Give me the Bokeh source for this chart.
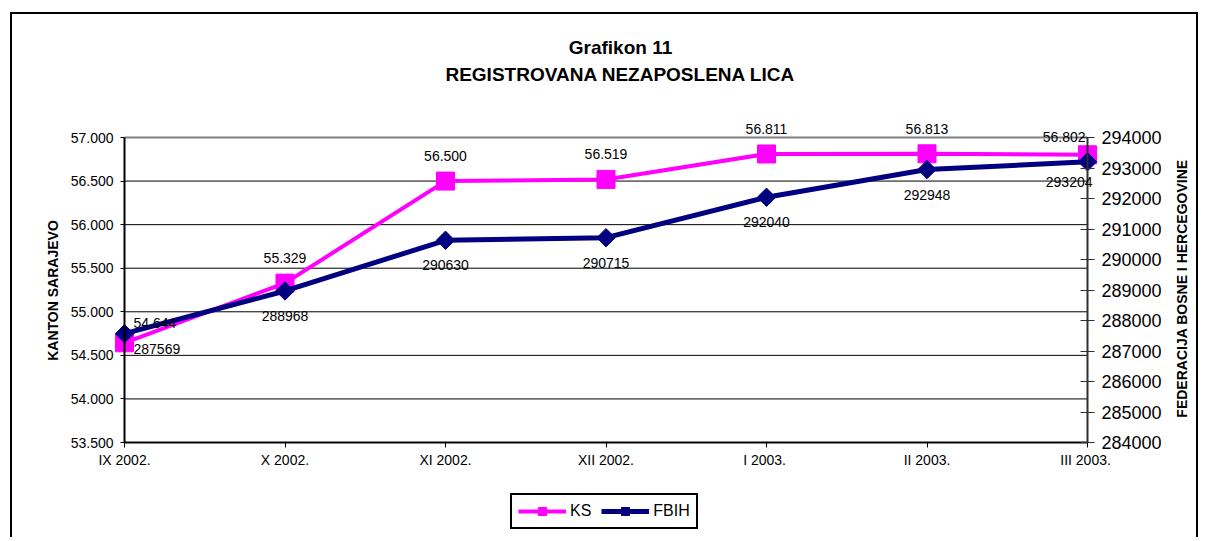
import math
from bokeh.plotting import figure
from bokeh.models import Range1d, LinearAxis, FixedTicker, Label, Legend, LegendItem
from bokeh.embed import file_html
from bokeh.resources import INLINE

# ---------------- data ----------------
CATEGORIES = ["IX 2002.", "X 2002.", "XI 2002.", "XII 2002.", "I  2003.", "II 2003.", "III  2003."]
KS = [54644, 55329, 56500, 56519, 56811, 56813, 56802]
FBIH = [287569, 288968, 290630, 290715, 292040, 292948, 293204]
KS_TICKS = [53500, 54000, 54500, 55000, 55500, 56000, 56500, 57000]
KS_TICK_LABELS = ["53.500", "54.000", "54.500", "55.000", "55.500", "56.000", "56.500", "57.000"]
FBIH_TICKS = [284000, 285000, 286000, 287000, 288000, 289000, 290000, 291000, 292000, 293000, 294000]
FBIH_TICK_LABELS = ["284000", "285000", "286000", "287000", "288000", "289000", "290000",
                    "291000", "292000", "293000", "294000"]
TITLE_LINES = ["Grafikon 11", "REGISTROVANA NEZAPOSLENA LICA"]
SERIES_NAMES = ["KS", "FBIH"]
LEFT_AXIS_TITLE = "KANTON SARAJEVO"
RIGHT_AXIS_TITLE = "FEDERACIJA BOSNE I HERCEGOVINE"

FONT = "Liberation Sans"
MAGENTA = "#FF00FF"
NAVY = "#000080"

# ---------------- layout (pixels) ----------------
CANVAS_W, CANVAS_H = 1188, 525
LEFT_PX, RIGHT_PX = 112, 113      # space left / right of the value area
PLOT_AREA_H = 305                 # height of the value area
TOP_PX = 123                      # space above the value area
BOTTOM_PX = CANVAS_H - PLOT_AREA_H - TOP_PX
PLOT_AREA_W = CANVAS_W - LEFT_PX - RIGHT_PX

n = len(CATEGORIES)
x = list(range(n))
ks_lo, ks_hi = KS_TICKS[0], KS_TICKS[-1]
fb_lo, fb_hi = FBIH_TICKS[0], FBIH_TICKS[-1]
ks_px = (ks_hi - ks_lo) / PLOT_AREA_H
fb_px = (fb_hi - fb_lo) / PLOT_AREA_H
x_px = (n - 1) / PLOT_AREA_W

p = figure(width=CANVAS_W, height=CANVAS_H, output_backend="svg", toolbar_location=None,
           x_range=Range1d(0 - LEFT_PX * x_px, (n - 1) + RIGHT_PX * x_px),
           y_range=Range1d(ks_lo - BOTTOM_PX * ks_px, ks_hi + TOP_PX * ks_px),
           min_border=0, background_fill_color="white", border_fill_color="white")
p.styles = {"border-top": "2px solid black", "border-left": "2px solid black",
            "border-right": "2px solid black", "margin-top": "12px", "margin-left": "10px"}
p.outline_line_color = None
p.extra_y_ranges = {"fbih": Range1d(fb_lo - BOTTOM_PX * fb_px, fb_hi + TOP_PX * fb_px)}
p.xgrid.visible = False
p.ygrid.visible = False

# horizontal grid lines across the value area (from the left-axis ticks)
p.segment(x0=[x[0]] * (len(KS_TICKS) - 2), x1=[x[-1]] * (len(KS_TICKS) - 2),
          y0=KS_TICKS[1:-1], y1=KS_TICKS[1:-1], line_color="black", line_width=1)
# top border of the value area
p.segment(x0=[x[0]], x1=[x[-1]], y0=[ks_hi], y1=[ks_hi], line_color="#808080", line_width=2)

# x axis (on the bottom of the value area)
xa = p.xaxis[0]
xa.fixed_location = ks_lo
xa.bounds = (x[0], x[-1])
xa.ticker = FixedTicker(ticks=x)
xa.major_label_overrides = {i: c for i, c in zip(x, CATEGORIES)}
xa.axis_line_color = "black"
xa.axis_line_width = 2
xa.major_tick_out = 5
xa.major_tick_in = 0
xa.minor_tick_out = 0
xa.minor_tick_in = 0
xa.major_tick_line_color = "black"
xa.major_label_text_font = FONT
xa.major_label_text_font_size = "14px"
xa.major_label_text_color = "black"
xa.major_label_standoff = 4

# left axis
ya = p.yaxis[0]
ya.fixed_location = x[0]
ya.bounds = (ks_lo, ks_hi)
ya.ticker = FixedTicker(ticks=KS_TICKS)
ya.major_label_overrides = {t: l for t, l in zip(KS_TICKS, KS_TICK_LABELS)}
ya.axis_line_color = "black"
ya.axis_line_width = 2
ya.major_tick_out = 4
ya.major_tick_in = 0
ya.minor_tick_out = 0
ya.minor_tick_in = 0
ya.major_tick_line_color = "black"
ya.major_label_text_font = FONT
ya.major_label_text_font_size = "14px"
ya.major_label_text_color = "black"
ya.major_label_standoff = 7

# right axis
ra = LinearAxis(y_range_name="fbih", ticker=FixedTicker(ticks=FBIH_TICKS), bounds=(fb_lo, fb_hi),
                fixed_location=x[-1],
                major_label_overrides={t: l for t, l in zip(FBIH_TICKS, FBIH_TICK_LABELS)})
ra.axis_line_color = "#303030"
ra.axis_line_width = 2
ra.major_tick_line_color = "#303030"
ra.major_tick_in = 7
ra.major_tick_out = 7
ra.minor_tick_in = 0
ra.minor_tick_out = 0
ra.major_label_text_font = FONT
ra.major_label_text_font_size = "18px"
ra.major_label_text_color = "black"
ra.major_label_standoff = 7
p.add_layout(ra, "right")

# series
r1 = p.line(x, KS, line_color=MAGENTA, line_width=4)
s1 = p.scatter(x, KS, marker="square", size=18, fill_color=MAGENTA, line_color=MAGENTA)
r2 = p.line(x, FBIH, line_color=NAVY, line_width=5, y_range_name="fbih")
s2 = p.scatter(x, FBIH, marker="square", angle=math.pi / 4, size=13,
               fill_color=NAVY, line_color=NAVY, y_range_name="fbih")


def fmt_ks(v):
    return f"{v:,}".replace(",", ".")


for i, (xv, kv, fv) in enumerate(zip(x, KS, FBIH)):
    if i == 0:
        ka, kx, ky = "left", 9, 20
        fa, fx, fy = "left", 9, -15
    elif i == n - 1:
        ka, kx, ky = "right", -2, 18
        fa, fx, fy = "right", 5, -20
    else:
        ka, kx, ky = "center", 0, 25
        fa, fx, fy = "center", 0, -25
    p.add_layout(Label(x=xv, y=kv, text=fmt_ks(kv), x_offset=kx, y_offset=ky,
                       text_align=ka, text_baseline="middle", text_font=FONT,
                       text_font_size="14px", text_color="black"))
    p.add_layout(Label(x=xv, y=fv, y_range_name="fbih", text=str(fv), x_offset=fx, y_offset=fy,
                       text_align=fa, text_baseline="middle", text_font=FONT,
                       text_font_size="14px", text_color="black"))

# title (screen units measured up from the frame's bottom-left corner)
for line_text, from_top in zip(TITLE_LINES, [33, 60]):
    p.add_layout(Label(x=608, y=CANVAS_H - from_top, x_units="screen", y_units="screen",
                       text=line_text, text_align="center", text_baseline="middle",
                       text_font=FONT, text_font_size="19px", text_font_style="bold",
                       text_color="black"))

# axis titles
for txt, sx, from_top in [(LEFT_AXIS_TITLE, 40, 276), (RIGHT_AXIS_TITLE, 1169, 274)]:
    p.add_layout(Label(x=sx, y=CANVAS_H - from_top, x_units="screen", y_units="screen",
                       text=txt, angle=math.pi / 2, text_align="center", text_baseline="middle",
                       text_font=FONT, text_font_size="14px", text_font_style="bold",
                       text_color="black"))

legend = Legend(items=[LegendItem(label=SERIES_NAMES[0], renderers=[r1, s1]),
                       LegendItem(label=SERIES_NAMES[1], renderers=[r2, s2])],
                orientation="horizontal", location=(498, 10))
legend.border_line_color = "black"
legend.border_line_width = 2
legend.border_line_alpha = 1
legend.background_fill_color = "white"
legend.background_fill_alpha = 1
legend.padding = 6
legend.spacing = 10
legend.margin = 0
legend.glyph_width = 48
legend.glyph_height = 20
legend.label_standoff = 4
legend.label_text_font = FONT
legend.label_text_font_size = "16px"
legend.label_text_color = "black"
p.add_layout(legend)

open("out.html", "w").write(file_html(p, INLINE))
